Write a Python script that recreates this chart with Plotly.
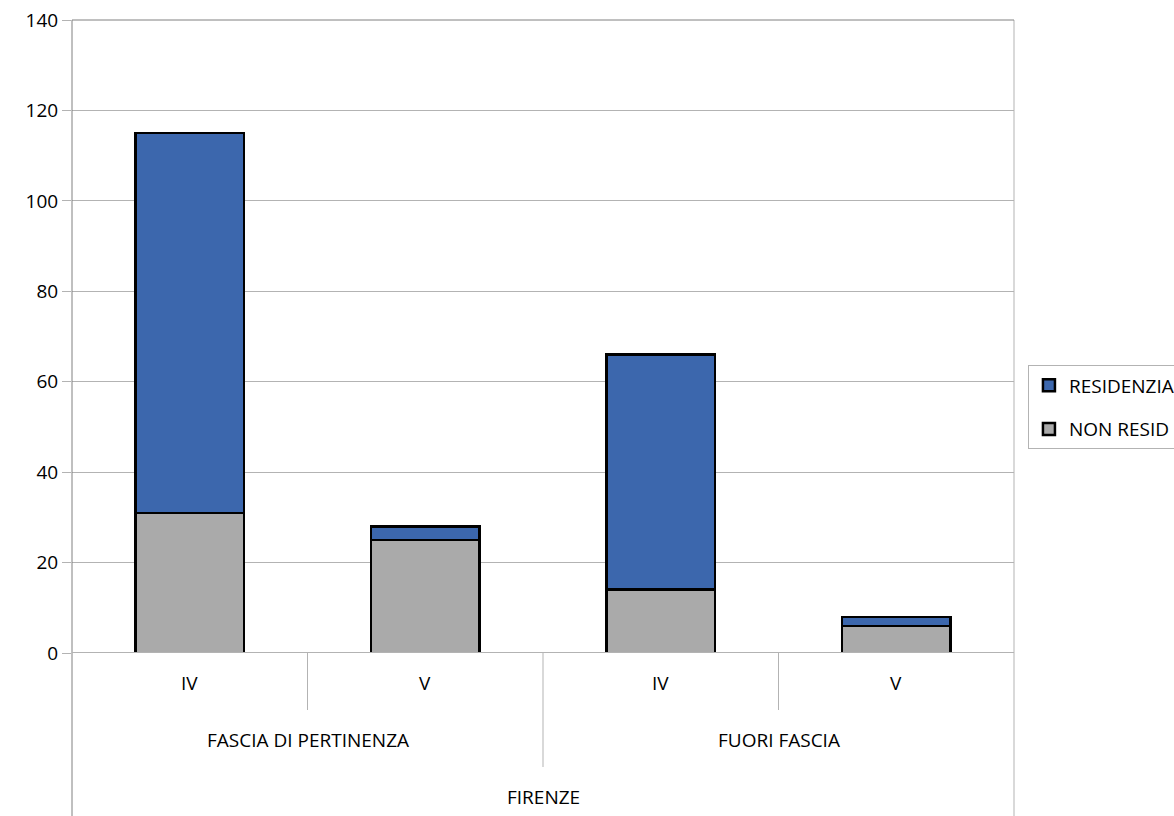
import plotly.graph_objects as go

# Three-level category axis: classe / fascia / comune
classi = ["IV", "V", "IV", "V"]
fasce = ["FASCIA DI PERTINENZA", "FUORI FASCIA"]
comune = "FIRENZE"

non_resid = [31, 25, 14, 6]
residenziali = [84, 3, 52, 2]

y_ticks = [0, 20, 40, 60, 80, 100, 120, 140]

BLUE = "#3c67ad"
GRAY = "#aaaaaa"
GRID = "#b3b3b3"
DARK = "#808080"
FONT = "Open Sans"
FS = 19

pos = list(range(len(classi)))

fig = go.Figure()
fig.add_trace(go.Bar(
    x=pos, y=non_resid, name="NON RESID", legendgroup="nonresid", legendrank=2,
    marker=dict(color=GRAY, line=dict(color="black", width=2.5)),
    width=0.46,
))
fig.add_trace(go.Bar(
    x=pos, y=residenziali, name="RESIDENZIALI", legendgroup="resid", legendrank=1,
    marker=dict(color=BLUE, line=dict(color="black", width=2.5)),
    width=0.46,
))

plot_h = 633.0  # plot area height in px, used to convert offsets below the axis


def below(px):
    return -px / plot_h


lab_font = dict(size=FS, color="black", family=FONT)
annotations = []
# level 1: classe
for i, lab in enumerate(classi):
    annotations.append(dict(x=i, y=below(30), xref="x", yref="paper", text=lab,
                            yanchor="middle", showarrow=False, font=lab_font))
# level 2: fascia, centred on its pair of columns
n_per = len(classi) // len(fasce)
for g, lab in enumerate(fasce):
    cx = g * n_per + (n_per - 1) / 2
    annotations.append(dict(x=cx, y=below(87), xref="x", yref="paper", text=lab,
                            yanchor="middle", showarrow=False, font=lab_font))
# level 3: comune
annotations.append(dict(x=(len(classi) - 1) / 2, y=below(144), xref="x", yref="paper",
                        text=comune, yanchor="middle", showarrow=False, font=lab_font))

shapes = []
# separators between classes within each fascia
for g in range(len(fasce)):
    xs = g * n_per + n_per / 2 - 0.5
    shapes.append(dict(type="line", xref="x", yref="paper", x0=xs, x1=xs,
                       y0=0, y1=below(57), line=dict(color=GRID, width=1)))
# separators between fasce
for g in range(1, len(fasce)):
    xs = g * n_per - 0.5
    shapes.append(dict(type="line", xref="x", yref="paper", x0=xs, x1=xs,
                       y0=0, y1=below(114), line=dict(color=GRID, width=1)))
# outer frame lines extending through the label area
shapes.append(dict(type="line", xref="paper", yref="paper", x0=0, x1=0,
                   y0=1, y1=below(163), line=dict(color=DARK, width=1)))
shapes.append(dict(type="line", xref="paper", yref="paper", x0=1, x1=1,
                   y0=1, y1=below(163), line=dict(color=GRID, width=1)))
shapes.append(dict(type="line", xref="paper", yref="paper", x0=0, x1=1,
                   y0=1, y1=1, line=dict(color=DARK, width=1)))

fig.update_layout(
    width=1174, height=816,
    margin=dict(l=72, r=160, t=20, b=163, autoexpand=False),
    paper_bgcolor="white", plot_bgcolor="white",
    barmode="stack",
    bargap=0.54,
    font=dict(family=FONT, size=FS, color="black"),
    xaxis=dict(range=[-0.5, len(classi) - 0.5], showticklabels=False,
               showgrid=False, zeroline=False, showline=False, ticks=""),
    yaxis=dict(range=[0, 140], tickvals=y_ticks, showgrid=True, gridcolor=GRID,
               gridwidth=1, zeroline=False, showline=False,
               ticks="outside", ticklen=9, tickcolor=GRID,
               tickfont=dict(size=FS, color="black", family=FONT)),
    legend=dict(x=1.0148, xanchor="left", y=0.388, yanchor="middle",
                traceorder="grouped", tracegroupgap=16,
                bordercolor=GRID, borderwidth=1, bgcolor="white",
                font=dict(size=FS, color="black", family=FONT)),
    annotations=annotations,
    shapes=shapes,
)

# zero line slightly heavier than the grid
fig.add_hline(y=0, line=dict(color=GRID, width=2), layer="above")

fig.write_html("out.html")
